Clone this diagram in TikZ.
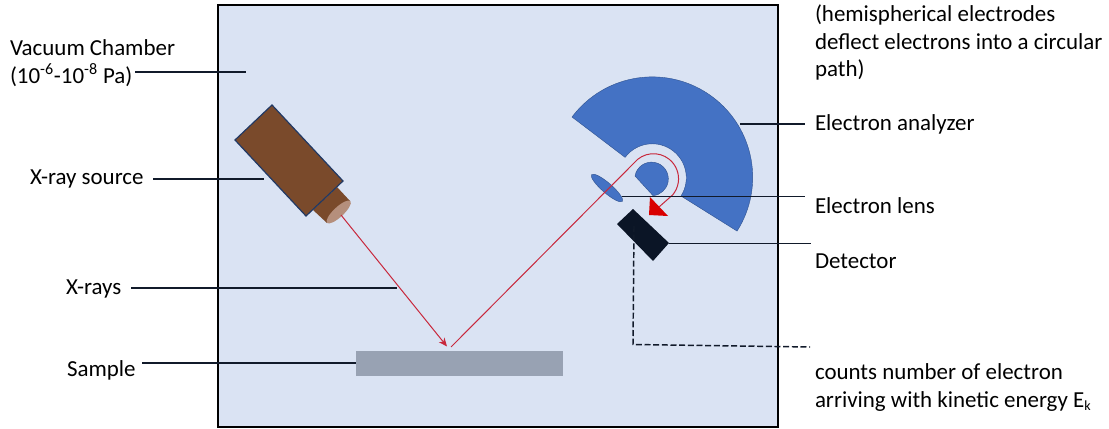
\documentclass[tikz,border=0pt]{standalone}
\usepackage{fontspec}
\setmainfont{Carlito}
\usetikzlibrary{arrows.meta,shapes.geometric}
\definecolor{chamber}{HTML}{DAE3F3}
\definecolor{blueshape}{HTML}{4472C4}
\definecolor{blueedge}{HTML}{2F528F}
\definecolor{brownbody}{HTML}{7A4A2B}
\definecolor{browncap}{HTML}{B58F7C}
\definecolor{samplegrey}{HTML}{98A2B3}
\definecolor{detectorblack}{HTML}{0B1526}
\definecolor{rayred}{HTML}{C8283C}
\definecolor{leader}{HTML}{111A2A}
\tikzset{
  x=0.75pt,y=-0.75pt,
  leaderline/.style={draw=leader,line width=1.1pt},
  dashline/.style={draw=leader,line width=1.1pt,dash pattern=on 4.5pt off 2pt},
  label/.style={font=\fontsize{17.2pt}{20.5pt}\selectfont,text=black,inner sep=0pt,outer sep=0pt,align=left,anchor=north west},
  single/.style={font=\fontsize{17.2pt}{20.5pt}\selectfont,text=black,inner sep=0pt,outer sep=0pt,anchor=base west},
  rayline/.style={draw=rayred,line width=0.75pt},
  blueshapes/.style={fill=blueshape,draw=blueedge,line width=0.3pt},
}
\begin{document}
\begin{tikzpicture}
\useasboundingbox (0,0) rectangle (1109,428);
\node[draw=black,fill=chamber,line width=1.4pt,minimum width=420pt,minimum height=316.3pt,inner sep=0pt,outer sep=0pt,anchor=north west] (chamber) at (217.7,5) {};
% analyzer
\path[blueshapes] (572,117) arc[start angle=143.1,end angle=-32.4,radius=75.3pt] -- (681,196) arc[start angle=-32.4,end angle=143.1,radius=25.5pt] -- cycle;
\path[blueshapes] (635,176) arc[start angle=170,end angle=-85,radius=12.6pt] -- cycle;
% lens
\node[blueshapes,ellipse,minimum width=30.5pt,minimum height=7.5pt,inner sep=0pt,rotate=-41] (lens) at (607,188) {};
% detector
\path[fill=detectorblack] (617,224) -- (633,209) -- (669,243) -- (653,261) -- cycle;
\coordinate (detR) at (669,243.3);
\coordinate (detB) at (634,226);
% source
\path[fill=brownbody] (337,187) -- (350,201) -- (327,223) -- (313,210) -- cycle;
\path[fill=brownbody,draw=blueedge!70!black,line width=0.9pt] (272,105) -- (343,181) -- (306,216) -- (235,140) -- cycle;
\node[fill=browncap,ellipse,minimum width=24pt,minimum height=7.5pt,inner sep=0pt,rotate=43] (cap) at (338.7,212) {};
% red rays
\coordinate (hit) at (451,347);
\draw[rayline,-{Stealth[length=6.5pt,width=5.5pt]}] (341,215) -- (447,346.5);
\path[fill=red!85!black] (650,197) -- (649,215) -- (668,216) -- cycle;
\draw[rayline] (hit) -- (634,163) arc[start angle=141,end angle=-40,radius=18.8pt] -- (659,207);
% sample
\node[fill=samplegrey,minimum width=155.25pt,minimum height=18.75pt,inner sep=0pt,outer sep=0pt,anchor=north west] (sample) at (356,351) {};
% labels
\node[label] (vac) at (10,40) {Vacuum Chamber\\(10\textsuperscript{-6}-10\textsuperscript{-8} Pa)};
\node[single] (src) at (30,184.5) {X-ray source};
\node[single] (xr) at (66,294.5) {X-rays};
\node[single] (sam) at (67,376) {Sample};
\node[label] (hem) at (815,5) {(hemispherical electrodes\\deflect electrons into a circular\\path)};
\node[single] (ana) at (815,130.5) {Electron analyzer};
\node[single] (len) at (815,213.5) {Electron lens};
\node[single] (dtt) at (815,268.5) {Detector};
\node[label] (cnt) at (815,364) {counts number of electron\\arriving with kinetic energy E\textsubscript{\fontsize{10.5pt}{10.5pt}\selectfont k}};
% leader lines
\coordinate (a1) at (135,72); \coordinate (a2) at (246,72);
\coordinate (b1) at (153,179); \coordinate (b2) at (264,179);
\coordinate (c1) at (131,288); \coordinate (c2) at (397,288);
\coordinate (d1) at (142,363); \coordinate (d2) at (356,363);
\coordinate (e1) at (740,124); \coordinate (e2) at (805,124);
\coordinate (f1) at (622,196.3); \coordinate (f2) at (805,196.3);
\coordinate (g2) at (811,243.3);
\coordinate (h1) at (633,344.5); \coordinate (h2) at (810,347);
\draw[leaderline] (a1) -- (a2);
\draw[leaderline] (b1) -- (b2);
\draw[leaderline] (c1) -- (c2);
\draw[leaderline] (d1) -- (d2);
\draw[leaderline] (e1) -- (e2);
\draw[leaderline] (f1) -- (f2);
\draw[leaderline] (detR) -- (g2);
\draw[dashline] (detB) -- (h1) -- (h2);
\end{tikzpicture}
\end{document}
